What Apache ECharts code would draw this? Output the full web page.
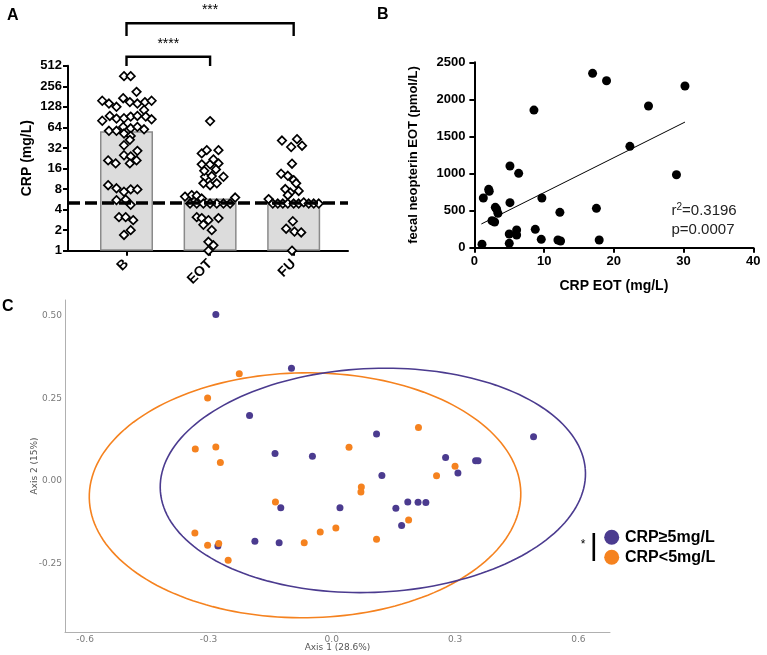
<!DOCTYPE html>
<html><head><meta charset="utf-8">
<script src="https://cdn.jsdelivr.net/npm/echarts@6/dist/echarts.min.js"></script>
<style>html,body{margin:0;padding:0;background:#fff}#c{width:767px;height:655px}</style>
</head><body><div id="c"></div>
<script>
// ---------- Panel A data ----------
const categories = ['B', 'EOT', 'FU'];
const barMedians = [56, 5.8, 5.2];
const crpThreshold = 5;
const bOffset = [-0.03,0.05,0.12,-0.29,-0.21,-0.12,-0.04,0.04,0.13,0.22,0.30,0.21,-0.29,-0.20,-0.12,-0.03,0.05,0.13,0.23,0.30,-0.21,-0.12,-0.04,0.05,0.13,0.21,-0.03,0.05,-0.03,0.04,-0.03,0.05,0.13,-0.22,-0.13,0.04,0.12,-0.22,-0.12,-0.03,0.05,0.13,-0.01,0.05,-0.09,-0.01,0.08,0.05,-0.03,-0.12];
const bCrp    = [360,360,212,157,143,128,171,150,143,150,157,115,80,94,86,87,92,94,92,84,57,57,65,62,65,60,52,48,35,42,25,24,29,21,19,19,21,9.1,8.2,7.3,7.9,7.9,5.6,4.7,3.1,3.1,2.8,2.0,1.7,5.5];
const eotOffset = [0,-0.10,-0.04,0.10,-0.10,0,0.10,0.04,-0.06,0.02,0.16,-0.08,0,0.08,-0.30,-0.22,-0.16,-0.10,0.30,-0.24,-0.16,-0.08,0,0.08,0.16,0.24,-0.16,-0.10,-0.02,0.10,-0.08,0.02,-0.02,0.04,-0.02,-0.07,0.07];
const eotCrp    = [79,26.6,29.7,29.7,18.4,18.4,19,21.7,12.1,12.4,12.1,9.7,9.1,9.7,6.2,6.5,6.4,5.8,6.0,4.9,4.9,4.9,4.9,4.9,4.9,4.9,3.1,3.0,2.8,3.0,2.4,2.0,1.35,1.2,1.0,14.8,15.5];
const fuOffset = [-0.14,0.04,-0.03,0.10,-0.02,-0.15,-0.07,0,0.03,-0.10,-0.04,0.06,-0.07,-0.30,-0.25,-0.19,-0.13,-0.07,0,0.06,0.12,0.18,0.24,0.30,-0.01,-0.09,0.01,0.09,-0.02];
const fuCrp    = [41,43,33,34.5,18.8,13.4,12.5,10.8,9.7,8.0,7.1,7.5,6.5,5.7,4.9,4.9,4.9,4.9,4.9,4.9,5.1,4.9,4.9,4.9,2.7,2.1,1.9,1.85,1.0];

// ---------- Panel B data ----------
const crpEOT = [1.09,1.28,2.05,2.13,5.1,6.35,8.54,9.68,5.1,3.0,3.19,3.38,2.52,2.9,12.26,17.5,5.0,6.06,6.06,5.0,8.73,9.59,11.98,12.36,17.9,16.95,18.95,30.2,24.97,22.3,28.98];
const neopterinEOT = [46,670,787,760,1101,1003,1856,670,607,544,518,463,364,346,477,531,185,239,171,59,248,113,104,90,104,2351,2251,2180,1910,1367,984];
const fitX = [1.0, 30.2];
const fitY = [320, 1694];
const r2Text = '0.3196';
const pText = '0.0007';

// ---------- Panel C data ----------
const highX = [-0.282,-0.098,-0.200,-0.138,-0.047,0.109,0.122,-0.124,0.020,0.156,-0.277,-0.187,-0.128,0.491,0.277,0.307,0.350,0.356,0.185,0.210,0.229,0.170];
const highY = [0.503,0.341,0.198,0.083,0.075,0.142,0.017,-0.081,-0.081,-0.082,-0.196,-0.182,-0.186,0.134,0.071,0.024,0.061,0.061,-0.063,-0.064,-0.065,-0.134];
const lowX = [-0.225,-0.302,-0.332,-0.282,-0.271,0.042,0.072,0.071,-0.137,-0.333,-0.302,-0.275,-0.252,-0.067,-0.028,0.010,0.109,0.211,0.300,0.255,0.187];
const lowY = [0.324,0.251,0.097,0.103,0.056,0.102,-0.018,-0.033,-0.063,-0.157,-0.194,-0.189,-0.239,-0.186,-0.154,-0.142,-0.176,0.162,0.045,0.016,-0.118];
// ellipse parameters: [centerX, centerY, semiAxisX, semiAxisY, rotation(rad)]
const highEllipse = [0.100, 0.002, 0.518, 0.338, 0.067];
const lowEllipse = [-0.065, -0.043, 0.525, 0.370, 0.017];
const xTicksC = [-0.6, -0.3, 0, 0.3, 0.6];
const yTicksC = [0.5, 0.25, 0, -0.25];
const legendC = ['CRP\u22655mg/L', 'CRP<5mg/L'];

const PURPLE = '#4b3b8f', ORANGE = '#f5821f';
const AR = 'Liberation Sans, Arial, sans-serif';
const DJ = 'DejaVu Sans, sans-serif';

const chart = echarts.init(document.getElementById('c'), null, {renderer: 'canvas'});

function jitter(offsets, vals, center) { return vals.map((v, i) => [center + offsets[i], v]); }
function ellipseRender(color) {
  return function (params, api) {
    const cx = api.value(0), cy = api.value(1), a = api.value(2), b = api.value(3), th = api.value(4);
    const pts = [];
    for (let i = 0; i <= 180; i++) {
      const t = i / 180 * 2 * Math.PI;
      const x = cx + a * Math.cos(t) * Math.cos(th) - b * Math.sin(t) * Math.sin(th);
      const y = cy + a * Math.cos(t) * Math.sin(th) + b * Math.sin(t) * Math.cos(th);
      pts.push(api.coord([x, y]));
    }
    return {type: 'polyline', shape: {points: pts}, style: {stroke: color, fill: null, lineWidth: 1.6}};
  };
}

const diamondStyle = {color: '#fff', borderColor: '#000', borderWidth: 1.7, opacity: 1};
const option = {
  animation: false,
  backgroundColor: '#fff',
  grid: [
    {left: 68, right: 419, top: 65.7, bottom: 404.3, outerBoundsMode: 'none', containLabel: false},
    {left: 474.4, right: 13.7, top: 62.3, bottom: 407.3, outerBoundsMode: 'none', containLabel: false},
    {left: 65, right: 157, top: 300, bottom: 23, outerBoundsMode: 'none', containLabel: false}
  ],
  xAxis: [
    {gridIndex: 0, type: 'value', min: 0.3, max: 3.65, splitLine: {show: false},
     axisLine: {onZero: false, lineStyle: {color: '#000', width: 2}},
     axisTick: {customValues: [1, 2, 3], length: 5, lineStyle: {color: '#000', width: 2}},
     axisLabel: {customValues: [1, 2, 3], formatter: v => categories[Math.round(v) - 1], rotate: 45,
       fontWeight: 'bold', fontSize: 14, fontFamily: AR, color: '#000', margin: 11}},
    {gridIndex: 1, type: 'value', min: 0, max: 40, interval: 10, splitLine: {show: false},
     axisLine: {onZero: false, lineStyle: {color: '#000', width: 2}},
     axisTick: {length: 5, lineStyle: {color: '#000', width: 2}},
     axisLabel: {fontWeight: 'bold', fontSize: 13, fontFamily: AR, color: '#000', margin: 7},
     name: 'CRP EOT (mg/L)', nameLocation: 'middle', nameGap: 31, nameMoveOverlap: false,
     nameTextStyle: {fontWeight: 'bold', fontSize: 14, fontFamily: AR, color: '#000'}},
    {gridIndex: 2, type: 'value', min: -0.649, max: 0.677, splitLine: {show: false},
     axisLine: {onZero: false, lineStyle: {color: '#b0b0b0', width: 1}},
     axisTick: {show: false},
     axisLabel: {customValues: xTicksC, formatter: v => v.toFixed(1), fontSize: 9, fontFamily: DJ, color: '#7a7a7a', margin: 3},
     name: 'Axis 1 (28.6%)', nameLocation: 'middle', nameGap: 11, nameMoveOverlap: false,
     nameTextStyle: {fontSize: 9, fontFamily: DJ, color: '#555'}}
  ],
  yAxis: [
    {gridIndex: 0, type: 'log', logBase: 2, min: 1, max: 512, splitLine: {show: false},
     axisLine: {show: true, onZero: false, lineStyle: {color: '#000', width: 2}},
     axisTick: {show: true, length: 5, lineStyle: {color: '#000', width: 2}},
     axisLabel: {fontWeight: 'bold', fontSize: 13, fontFamily: AR, color: '#000', margin: 6},
     name: 'CRP (mg/L)', nameLocation: 'middle', nameGap: 34, nameMoveOverlap: false,
     nameTextStyle: {fontWeight: 'bold', fontSize: 14, fontFamily: AR, color: '#000'}},
    {gridIndex: 1, type: 'value', min: 0, max: 2500, interval: 500, splitLine: {show: false},
     axisLine: {show: true, onZero: false, lineStyle: {color: '#000', width: 2}},
     axisTick: {show: true, length: 5, lineStyle: {color: '#000', width: 2}},
     axisLabel: {formatter: v => String(v), fontWeight: 'bold', fontSize: 13, fontFamily: AR, color: '#000', margin: 9},
     name: 'fecal neopterin EOT (pmol/L)', nameLocation: 'middle', nameGap: 54, nameMoveOverlap: false,
     nameTextStyle: {fontWeight: 'bold', fontSize: 13, fontFamily: AR, color: '#000'}},
    {gridIndex: 2, type: 'value', min: -0.456, max: 0.547, splitLine: {show: false},
     axisLine: {show: true, onZero: false, lineStyle: {color: '#b0b0b0', width: 1}},
     axisTick: {show: false},
     axisLabel: {customValues: yTicksC, formatter: v => v.toFixed(2), fontSize: 9, fontFamily: DJ, color: '#7a7a7a', margin: 3},
     name: 'Axis 2 (15%)', nameLocation: 'middle', nameGap: 26, nameMoveOverlap: false,
     nameTextStyle: {fontSize: 9, fontFamily: DJ, color: '#555'}}
  ],
  series: [
    {type: 'bar', xAxisIndex: 0, yAxisIndex: 0, barWidth: 53, z: 1,
     data: barMedians.map((v, i) => [i + 1, v]),
     itemStyle: {color: '#dcdcdc', borderColor: '#8a8a8a', borderWidth: 1.5},
     markLine: {silent: true, symbol: 'none', z: 10, label: {show: false},
       lineStyle: {color: '#000', width: 3.5, type: [12, 5]},
       data: [{yAxis: crpThreshold}]}},
    {type: 'scatter', xAxisIndex: 0, yAxisIndex: 0, symbol: 'diamond', symbolSize: 8.5, z: 3,
     itemStyle: diamondStyle,
     data: jitter(bOffset, bCrp, 1).concat(jitter(eotOffset, eotCrp, 2), jitter(fuOffset, fuCrp, 3))},
    {type: 'scatter', xAxisIndex: 1, yAxisIndex: 1, symbolSize: 9, itemStyle: {color: '#000', opacity: 1},
     data: crpEOT.map((x, i) => [x, neopterinEOT[i]])},
    {type: 'line', xAxisIndex: 1, yAxisIndex: 1, showSymbol: false, symbol: 'none',
     lineStyle: {color: '#000', width: 1}, data: fitX.map((x, i) => [x, fitY[i]])},
    {type: 'custom', xAxisIndex: 2, yAxisIndex: 2, renderItem: ellipseRender(ORANGE),
     dimensions: ['cx', 'cy', 'a', 'b', 'th'], encode: {x: 0, y: 1}, data: [lowEllipse], z: 1},
    {type: 'custom', xAxisIndex: 2, yAxisIndex: 2, renderItem: ellipseRender(PURPLE),
     dimensions: ['cx', 'cy', 'a', 'b', 'th'], encode: {x: 0, y: 1}, data: [highEllipse], z: 1},
    {type: 'scatter', xAxisIndex: 2, yAxisIndex: 2, symbolSize: 7, z: 3, itemStyle: {color: PURPLE, opacity: 1},
     data: highX.map((x, i) => [x, highY[i]])},
    {type: 'scatter', xAxisIndex: 2, yAxisIndex: 2, symbolSize: 7, z: 3, itemStyle: {color: ORANGE, opacity: 1},
     data: lowX.map((x, i) => [x, lowY[i]])}
  ]
};
chart.setOption(option);

// annotations (brackets, panel labels, legend) positioned from axis conversions
const xB = chart.convertToPixel({xAxisIndex: 0}, 1);
const xE = chart.convertToPixel({xAxisIndex: 0}, 2);
const xF = chart.convertToPixel({xAxisIndex: 0}, 3);
const lbl = (t, x, y) => ({type: 'text', x: x, y: y, style: {text: t, font: 'bold 16px ' + AR, fill: '#000', textVerticalAlign: 'middle'}});
chart.setOption({
  graphic: [
    lbl('A', 7, 16), lbl('B', 377, 15), lbl('C', 2, 307),
    {type: 'polyline', shape: {points: [[xB, 36], [xB, 23.3], [xF, 23.3], [xF, 36]]}, style: {stroke: '#000', lineWidth: 2.4, fill: null}},
    {type: 'text', x: (xB + xF) / 2, y: 10, style: {text: '***', font: '14px ' + AR, fill: '#000', textAlign: 'center', textVerticalAlign: 'middle'}},
    {type: 'polyline', shape: {points: [[xB, 66], [xB, 56.7], [xE, 56.7], [xE, 66]]}, style: {stroke: '#000', lineWidth: 2.4, fill: null}},
    {type: 'text', x: (xB + xE) / 2, y: 44, style: {text: '****', font: '14px ' + AR, fill: '#000', textAlign: 'center', textVerticalAlign: 'middle'}},
    {type: 'text', x: 671.5, y: 211, style: {rich: {n: {font: '15px ' + AR, fill: '#222'}, s: {font: '10px ' + AR, fill: '#222', padding: [0, 0, 8, 0]}},
      text: '{n|r}{s|2}{n|=' + r2Text + '}', textVerticalAlign: 'middle'}},
    {type: 'text', x: 671.5, y: 230, style: {text: 'p=' + pText, font: '15px ' + AR, fill: '#222', textVerticalAlign: 'middle'}},
    {type: 'text', x: 583, y: 545, style: {text: '*', font: '12px ' + AR, fill: '#000', textAlign: 'center', textVerticalAlign: 'middle'}},
    {type: 'rect', shape: {x: 592.5, y: 533, width: 2.6, height: 28}, style: {fill: '#000'}},
    {type: 'circle', shape: {cx: 611.7, cy: 537.3, r: 7.5}, style: {fill: PURPLE}},
    {type: 'circle', shape: {cx: 611.7, cy: 557.3, r: 7.5}, style: {fill: ORANGE}},
    {type: 'text', x: 625, y: 538, style: {text: legendC[0], font: 'bold 16px ' + AR, fill: '#000', textVerticalAlign: 'middle'}},
    {type: 'text', x: 625, y: 558, style: {text: legendC[1], font: 'bold 16px ' + AR, fill: '#000', textVerticalAlign: 'middle'}}
  ]
});
</script></body></html>
